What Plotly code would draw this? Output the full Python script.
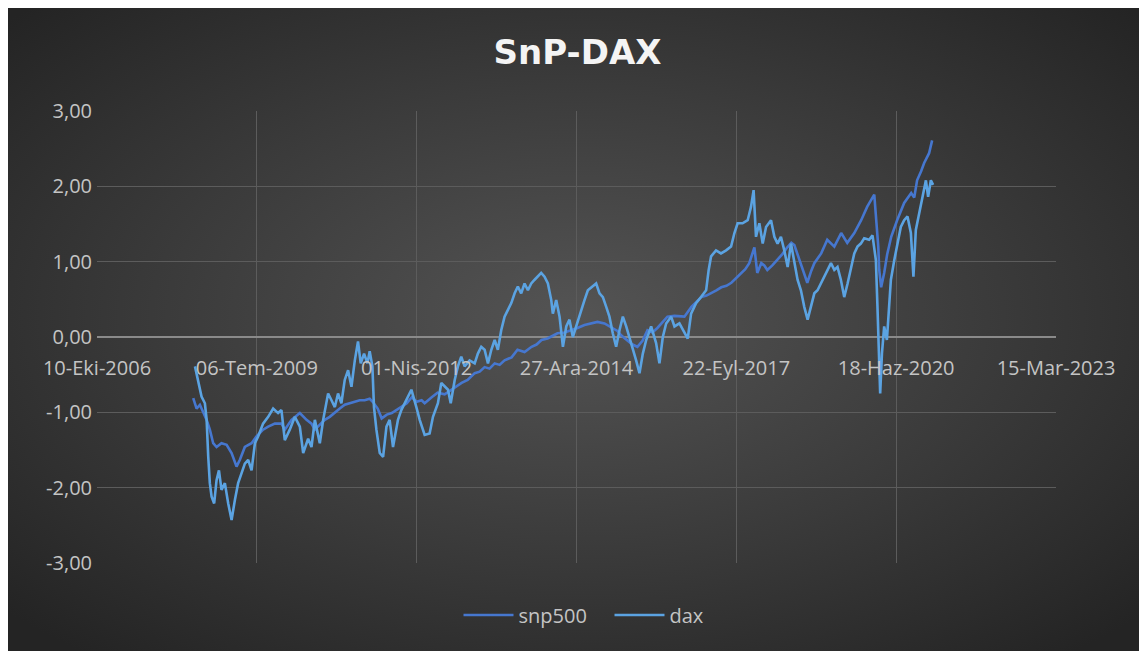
import base64
import pandas as pd
import plotly.graph_objects as go

# x values are Excel date serial numbers (39000 = 10-Eki-2006)
snp_serial = [39602, 39623, 39644, 39664, 39686, 39706, 39727, 39748, 39779, 39811,
              39842, 39873, 39894, 39925, 39967, 39998, 40039, 40071, 40113, 40154,
              40175, 40217, 40269, 40311, 40342, 40363, 40394, 40425, 40456, 40488,
              40519, 40550, 40581, 40613, 40644, 40675, 40706, 40725, 40756, 40781,
              40813, 40844, 40875, 40906, 40938, 40969, 41000, 41031, 41050, 41094,
              41131, 41175, 41219, 41250, 41281, 41319, 41363, 41394, 41425, 41456,
              41488, 41519, 41550, 41594, 41631, 41675, 41719, 41750, 41781, 41819,
              41863, 41881, 41925, 41969, 42006, 42050, 42094, 42131, 42175, 42219,
              42256, 42281, 42319, 42350, 42381, 42413, 42444, 42475, 42506, 42538,
              42569, 42613, 42675, 42719, 42750, 42781, 42813, 42844, 42875, 42906,
              42938, 42969, 43000, 43031, 43056, 43081, 43100, 43113, 43131, 43156,
              43175, 43194, 43225, 43256, 43288, 43319, 43344, 43363, 43381, 43413,
              43431, 43444, 43469, 43488, 43531, 43569, 43613, 43656, 43694, 43738,
              43781, 43819, 43863, 43875, 43888, 43894, 43906, 43925, 43944, 43969,
              44006, 44050, 44094, 44113, 44131, 44156, 44175, 44206, 44225]
snp_values = [-0.81, -0.95, -0.90, -0.99, -1.10, -1.23, -1.41, -1.46, -1.41, -1.43,
              -1.54, -1.72, -1.63, -1.46, -1.41, -1.32, -1.23, -1.19, -1.15, -1.15,
              -1.23, -1.10, -1.01, -1.10, -1.15, -1.23, -1.17, -1.10, -1.06, -1.01,
              -0.95, -0.90, -0.88, -0.86, -0.84, -0.84, -0.82, -0.86, -0.95, -1.08,
              -1.03, -1.01, -0.97, -0.93, -0.88, -0.80, -0.86, -0.84, -0.88, -0.80,
              -0.74, -0.76, -0.70, -0.66, -0.61, -0.57, -0.48, -0.46, -0.40, -0.42,
              -0.35, -0.37, -0.31, -0.27, -0.17, -0.20, -0.13, -0.10, -0.04, -0.02,
              0.03, 0.05, 0.06, 0.09, 0.12, 0.16, 0.18, 0.20, 0.18, 0.13,
              0.08, 0.02, -0.04, -0.10, -0.13, -0.05, 0.09, 0.06, 0.12, 0.20,
              0.27, 0.28, 0.27, 0.40, 0.46, 0.53, 0.55, 0.58, 0.62, 0.66,
              0.68, 0.72, 0.78, 0.85, 0.90, 0.98, 1.10, 1.19, 0.85, 0.98,
              0.95, 0.89, 0.95, 1.02, 1.10, 1.19, 1.25, 1.22, 1.11, 0.93,
              0.80, 0.72, 0.88, 0.98, 1.11, 1.29, 1.20, 1.38, 1.25, 1.38,
              1.55, 1.73, 1.89, 1.60, 1.20, 0.89, 0.66, 0.85, 1.10, 1.33,
              1.55, 1.78, 1.91, 1.85, 2.08, 2.20, 2.31, 2.44, 2.61]

dax_serial = [39613, 39623, 39638, 39654, 39675, 39686, 39696, 39706, 39717, 39733,
              39748, 39763, 39779, 39800, 39821, 39842, 39863, 39883, 39904, 39925,
              39946, 39967, 39988, 40008, 40039, 40071, 40102, 40133, 40154, 40175,
              40206, 40238, 40269, 40290, 40321, 40342, 40363, 40394, 40415, 40446,
              40467, 40488, 40508, 40529, 40550, 40571, 40592, 40613, 40633, 40650,
              40671, 40692, 40706, 40723, 40733, 40748, 40769, 40790, 40811, 40831,
              40852, 40883, 40904, 40936, 40967, 40998, 41019, 41050, 41081, 41102,
              41133, 41154, 41175, 41196, 41213, 41238, 41258, 41279, 41300, 41331,
              41363, 41383, 41404, 41425, 41446, 41467, 41488, 41508, 41529, 41550,
              41571, 41592, 41613, 41633, 41654, 41675, 41696, 41717, 41738, 41758,
              41779, 41800, 41821, 41842, 41852, 41873, 41894, 41915, 41936, 41956,
              41977, 41998, 42029, 42050, 42071, 42102, 42123, 42144, 42165, 42186,
              42206, 42227, 42248, 42269, 42290, 42311, 42331, 42352, 42373, 42394,
              42415, 42436, 42467, 42498, 42519, 42540, 42561, 42592, 42613, 42644,
              42675, 42696, 42717, 42748, 42779, 42811, 42827, 42842, 42873, 42904,
              42936, 42967, 42988, 43008, 43039, 43071, 43092, 43108, 43123, 43144,
              43165, 43186, 43217, 43238, 43258, 43279, 43300, 43321, 43342, 43363,
              43383, 43404, 43425, 43446, 43467, 43488, 43508, 43529, 43561, 43592,
              43613, 43633, 43654, 43675, 43696, 43717, 43738, 43758, 43779, 43800,
              43831, 43852, 43873, 43883, 43892, 43900, 43911, 43925, 43942, 43956,
              43967, 43988, 44008, 44029, 44050, 44071, 44092, 44108, 44123, 44144,
              44165, 44186, 44200, 44217, 44231]
dax_values = [-0.39, -0.48, -0.61, -0.79, -0.88, -1.10, -1.59, -1.94, -2.12, -2.21,
              -1.90, -1.77, -2.03, -1.94, -2.21, -2.43, -2.16, -1.94, -1.81, -1.68,
              -1.63, -1.77, -1.41, -1.32, -1.15, -1.06, -0.95, -1.01, -0.97, -1.37,
              -1.23, -1.06, -1.19, -1.54, -1.35, -1.46, -1.10, -1.41, -1.10, -0.75,
              -0.84, -0.93, -0.75, -0.88, -0.57, -0.44, -0.66, -0.31, -0.06, -0.35,
              -0.22, -0.35, -0.19, -0.39, -0.93, -1.23, -1.54, -1.59, -1.19, -1.10,
              -1.46, -1.10, -0.97, -0.84, -0.70, -0.93, -1.10, -1.30, -1.28, -1.06,
              -0.88, -0.61, -0.66, -0.70, -0.88, -0.57, -0.39, -0.26, -0.39, -0.31,
              -0.35, -0.22, -0.13, -0.17, -0.35, -0.17, -0.04, -0.17, 0.09, 0.27,
              0.36, 0.45, 0.58, 0.67, 0.58, 0.71, 0.62, 0.71, 0.76, 0.80,
              0.85, 0.80, 0.71, 0.49, 0.31, 0.49, 0.27, -0.13, 0.14, 0.23,
              0.00, 0.14, 0.36, 0.49, 0.62, 0.67, 0.71, 0.58, 0.53, 0.40,
              0.27, 0.05, -0.13, 0.09, 0.27, 0.14, 0.00, -0.13, -0.31, -0.48,
              -0.22, -0.04, 0.14, -0.08, -0.35, 0.00, 0.18, 0.27, 0.14, 0.18,
              0.05, -0.02, 0.31, 0.45, 0.53, 0.62, 0.89, 1.07, 1.15, 1.11,
              1.15, 1.20, 1.38, 1.51, 1.51, 1.55, 1.73, 1.95, 1.33, 1.51,
              1.24, 1.46, 1.55, 1.33, 1.24, 1.33, 1.15, 0.93, 1.24, 1.02,
              0.76, 0.62, 0.40, 0.23, 0.40, 0.58, 0.62, 0.71, 0.85, 0.98,
              0.89, 0.93, 0.76, 0.53, 0.71, 0.89, 1.11, 1.20, 1.24, 1.31,
              1.29, 1.35, 1.02, 0.40, -0.22, -0.75, -0.22, 0.14, -0.04, 0.40,
              0.76, 1.02, 1.24, 1.46, 1.55, 1.60, 1.38, 0.80, 1.42, 1.64,
              1.82, 2.08, 1.86, 2.08, 2.02]

x_tick_serials = [39000, 40000, 41000, 42000, 43000, 44000, 45000]
x_tick_labels = ["10-Eki-2006", "06-Tem-2009", "01-Nis-2012", "27-Ara-2014",
                 "22-Eyl-2017", "18-Haz-2020", "15-Mar-2023"]
y_tick_values = [-3, -2, -1, 0, 1, 2, 3]
y_tick_labels = ["-3,00", "-2,00", "-1,00", "0,00", "1,00", "2,00", "3,00"]
series_names = ["snp500", "dax"]

W, H = 1139, 643
ML, MR, MT, MB = 89, 91, 103, 88
PW, PH = W - ML - MR, H - MT - MB

svg = (f'<svg xmlns="http://www.w3.org/2000/svg" width="{W}" height="{H}" '
       f'viewBox="0 0 {W} {H}" preserveAspectRatio="none">'
       '<defs><radialGradient id="g" cx="50%" cy="48%" r="68%">'
       '<stop offset="0" stop-color="#545454"/>'
       '<stop offset="0.55" stop-color="#3a3a3a"/>'
       '<stop offset="1" stop-color="#242424"/>'
       '</radialGradient></defs>'
       f'<rect width="{W}" height="{H}" fill="url(#g)"/></svg>')
bg_src = "data:image/svg+xml;base64," + base64.b64encode(svg.encode()).decode()

FONT = "Open Sans"
TXT = "#c4c4c4"
GRID = "#5c5c5c"

fig = go.Figure()
fig.add_trace(go.Scatter(x=snp_serial, y=snp_values, mode="lines", name=series_names[0],
                         line=dict(color="#4677cf", width=2.6)))
fig.add_trace(go.Scatter(x=dax_serial, y=dax_values, mode="lines", name=series_names[1],
                         line=dict(color="#5ba3e2", width=2.6)))

fig.update_layout(
    width=W, height=H,
    margin=dict(l=ML, r=MR, t=MT, b=MB, pad=0),
    paper_bgcolor="#262626",
    plot_bgcolor="rgba(0,0,0,0)",
    images=[dict(source=bg_src, xref="paper", yref="paper",
                 x=-ML / PW, y=1 + MT / PH, sizex=W / PW, sizey=H / PH,
                 xanchor="left", yanchor="top", sizing="stretch", layer="below")],
    title=dict(text="<b>SnP-DAX</b>", x=0.5, xanchor="center",
               y=1 - 44 / H, yref="container", yanchor="middle",
               font=dict(family="DejaVu Sans", size=34, color="#f4f4f4")),
    showlegend=True,
    legend=dict(orientation="h", x=(450.5 - ML) / PW, xanchor="left",
                y=-(607 - (MT + PH)) / PH, yanchor="middle",
                font=dict(family=FONT, size=20, color=TXT),
                bgcolor="rgba(0,0,0,0)", itemwidth=50, entrywidth=86),
    xaxis=dict(range=[39000, 45000], tickmode="array", tickvals=x_tick_serials,
               ticktext=x_tick_labels, showgrid=True, gridcolor=GRID, gridwidth=1,
               zeroline=False, showline=False, ticks="",
               anchor="free", position=0.5, ticklabelstandoff=17,
               tickfont=dict(family=FONT, size=20, color=TXT)),
    yaxis=dict(range=[-3, 3], tickmode="array", tickvals=y_tick_values,
               ticktext=y_tick_labels, showgrid=True, gridcolor=GRID, gridwidth=1,
               zeroline=True, zerolinecolor="#8a8a8a", zerolinewidth=2,
               showline=False, ticks="", ticklabelstandoff=4,
               tickfont=dict(family=FONT, size=20, color=TXT)),
)

fig.write_html("out.html")
